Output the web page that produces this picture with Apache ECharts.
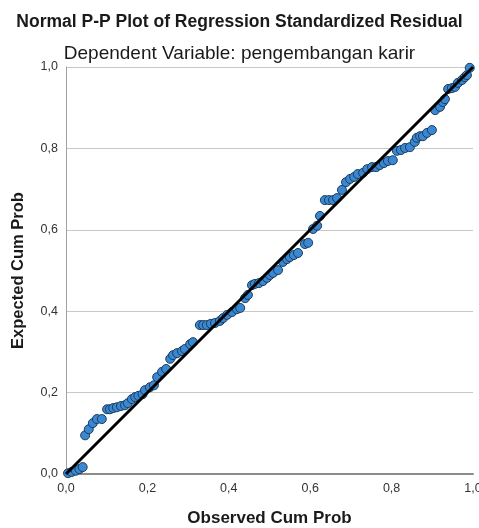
<!DOCTYPE html>
<html>
<head>
<meta charset="utf-8">
<script src="https://cdn.jsdelivr.net/npm/echarts@6/dist/echarts.min.js"></script>
<style>html,body{margin:0;padding:0;background:#fff;}#c{width:479px;height:528px;}</style>
</head>
<body>
<div id="c"></div>
<script>
const titleText = "Normal P-P Plot of Regression Standardized Residual";
const subtitleText = "Dependent Variable: pengembangan karir";
const xAxisName = "Observed Cum Prob";
const yAxisName = "Expected Cum Prob";

const observed = [
0.005,0.014,0.024,0.033,0.041,0.047,0.056,0.066,0.076,0.088,
0.101,0.108,0.116,0.125,0.135,0.145,0.152,0.162,0.170,0.178,
0.188,0.194,0.206,0.216,0.224,0.236,0.246,0.256,0.263,0.273,
0.285,0.292,0.305,0.312,0.329,0.337,0.346,0.356,0.366,0.378,
0.386,0.396,0.408,0.420,0.428,0.440,0.447,0.457,0.464,0.474,
0.484,0.494,0.501,0.509,0.521,0.533,0.543,0.550,0.560,0.570,
0.587,0.595,0.607,0.617,0.624,0.636,0.646,0.656,0.666,0.678,
0.688,0.698,0.708,0.717,0.730,0.740,0.752,0.762,0.771,0.781,
0.791,0.803,0.813,0.823,0.833,0.845,0.857,0.862,0.870,0.877,
0.887,0.899,0.907,0.919,0.926,0.931,0.939,0.948,0.956,0.963,
0.973,0.980,0.985,0.992
];
const expected = [
0.002,0.005,0.008,0.012,0.017,0.095,0.110,0.125,0.135,0.135,
0.159,0.159,0.162,0.164,0.167,0.169,0.174,0.184,0.189,0.192,
0.196,0.206,0.213,0.218,0.238,0.251,0.258,0.283,0.292,0.297,
0.302,0.307,0.319,0.324,0.366,0.366,0.366,0.369,0.371,0.376,
0.383,0.391,0.398,0.405,0.408,0.432,0.440,0.464,0.467,0.469,
0.474,0.482,0.489,0.494,0.501,0.521,0.528,0.533,0.538,0.543,
0.565,0.568,0.602,0.610,0.634,0.673,0.673,0.673,0.678,0.698,
0.717,0.725,0.730,0.737,0.740,0.749,0.754,0.754,0.759,0.764,
0.769,0.771,0.794,0.796,0.801,0.803,0.816,0.826,0.830,0.830,
0.838,0.845,0.894,0.902,0.914,0.921,0.946,0.948,0.951,0.961,
0.968,0.975,0.980,0.998
];
const refLineX = [0, 1];
const refLineY = [0, 1];

const points = observed.map((x, i) => [x, expected[i]]);
const refLine = refLineX.map((x, i) => [x, refLineY[i]]);
const fmt = v => v.toFixed(1).replace('.', ',');
const font = '"Liberation Sans", Arial, sans-serif';

const chart = echarts.init(document.getElementById('c'));
chart.setOption({
  animation: false,
  backgroundColor: '#ffffff',
  title: [
    {text: titleText, left: 'center', top: 8,
     textStyle: {fontFamily: font, fontSize: 17.5, fontWeight: 'bold', color: '#1a1a1a'}},
    {text: subtitleText, left: 'center', top: 39,
     textStyle: {fontFamily: font, fontSize: 19, fontWeight: 'normal', color: '#1a1a1a'}}
  ],
  grid: {left: 66, right: 6, top: 67, bottom: 54, containLabel: false, outerBoundsMode: 'none'},
  xAxis: {
    type: 'value', min: 0, max: 1, interval: 0.2,
    name: xAxisName, nameLocation: 'middle', nameGap: 36,
    nameTextStyle: {fontFamily: font, fontSize: 17, fontWeight: 'bold', color: '#1a1a1a'},
    axisLine: {show: true, lineStyle: {color: '#8c8c8c', width: 2}},
    axisTick: {show: false},
    splitLine: {show: false},
    axisLabel: {formatter: fmt, fontFamily: font, fontSize: 12.5, color: '#333', margin: 8}
  },
  yAxis: {
    type: 'value', min: 0, max: 1, interval: 0.2,
    name: yAxisName, nameLocation: 'middle', nameGap: 39,
    nameTextStyle: {fontFamily: font, fontSize: 16.5, fontWeight: 'bold', color: '#1a1a1a'},
    axisLine: {show: true, lineStyle: {color: '#a0a0a0', width: 1}},
    axisTick: {show: false},
    splitLine: {show: true, lineStyle: {color: '#c8c8c8', width: 1}},
    axisLabel: {formatter: fmt, fontFamily: font, fontSize: 12.5, color: '#333', margin: 8}
  },
  series: [
    {
      type: 'line', data: refLine, symbol: 'none', z: 3,
      lineStyle: {color: '#000', width: 3}
    },
    {
      type: 'scatter', data: points, symbol: 'circle', symbolSize: 9, z: 2,
      itemStyle: {color: '#3a87d2', borderColor: '#1d3d5e', borderWidth: 1, opacity: 1}
    }
  ]
});
</script>
</body>
</html>
